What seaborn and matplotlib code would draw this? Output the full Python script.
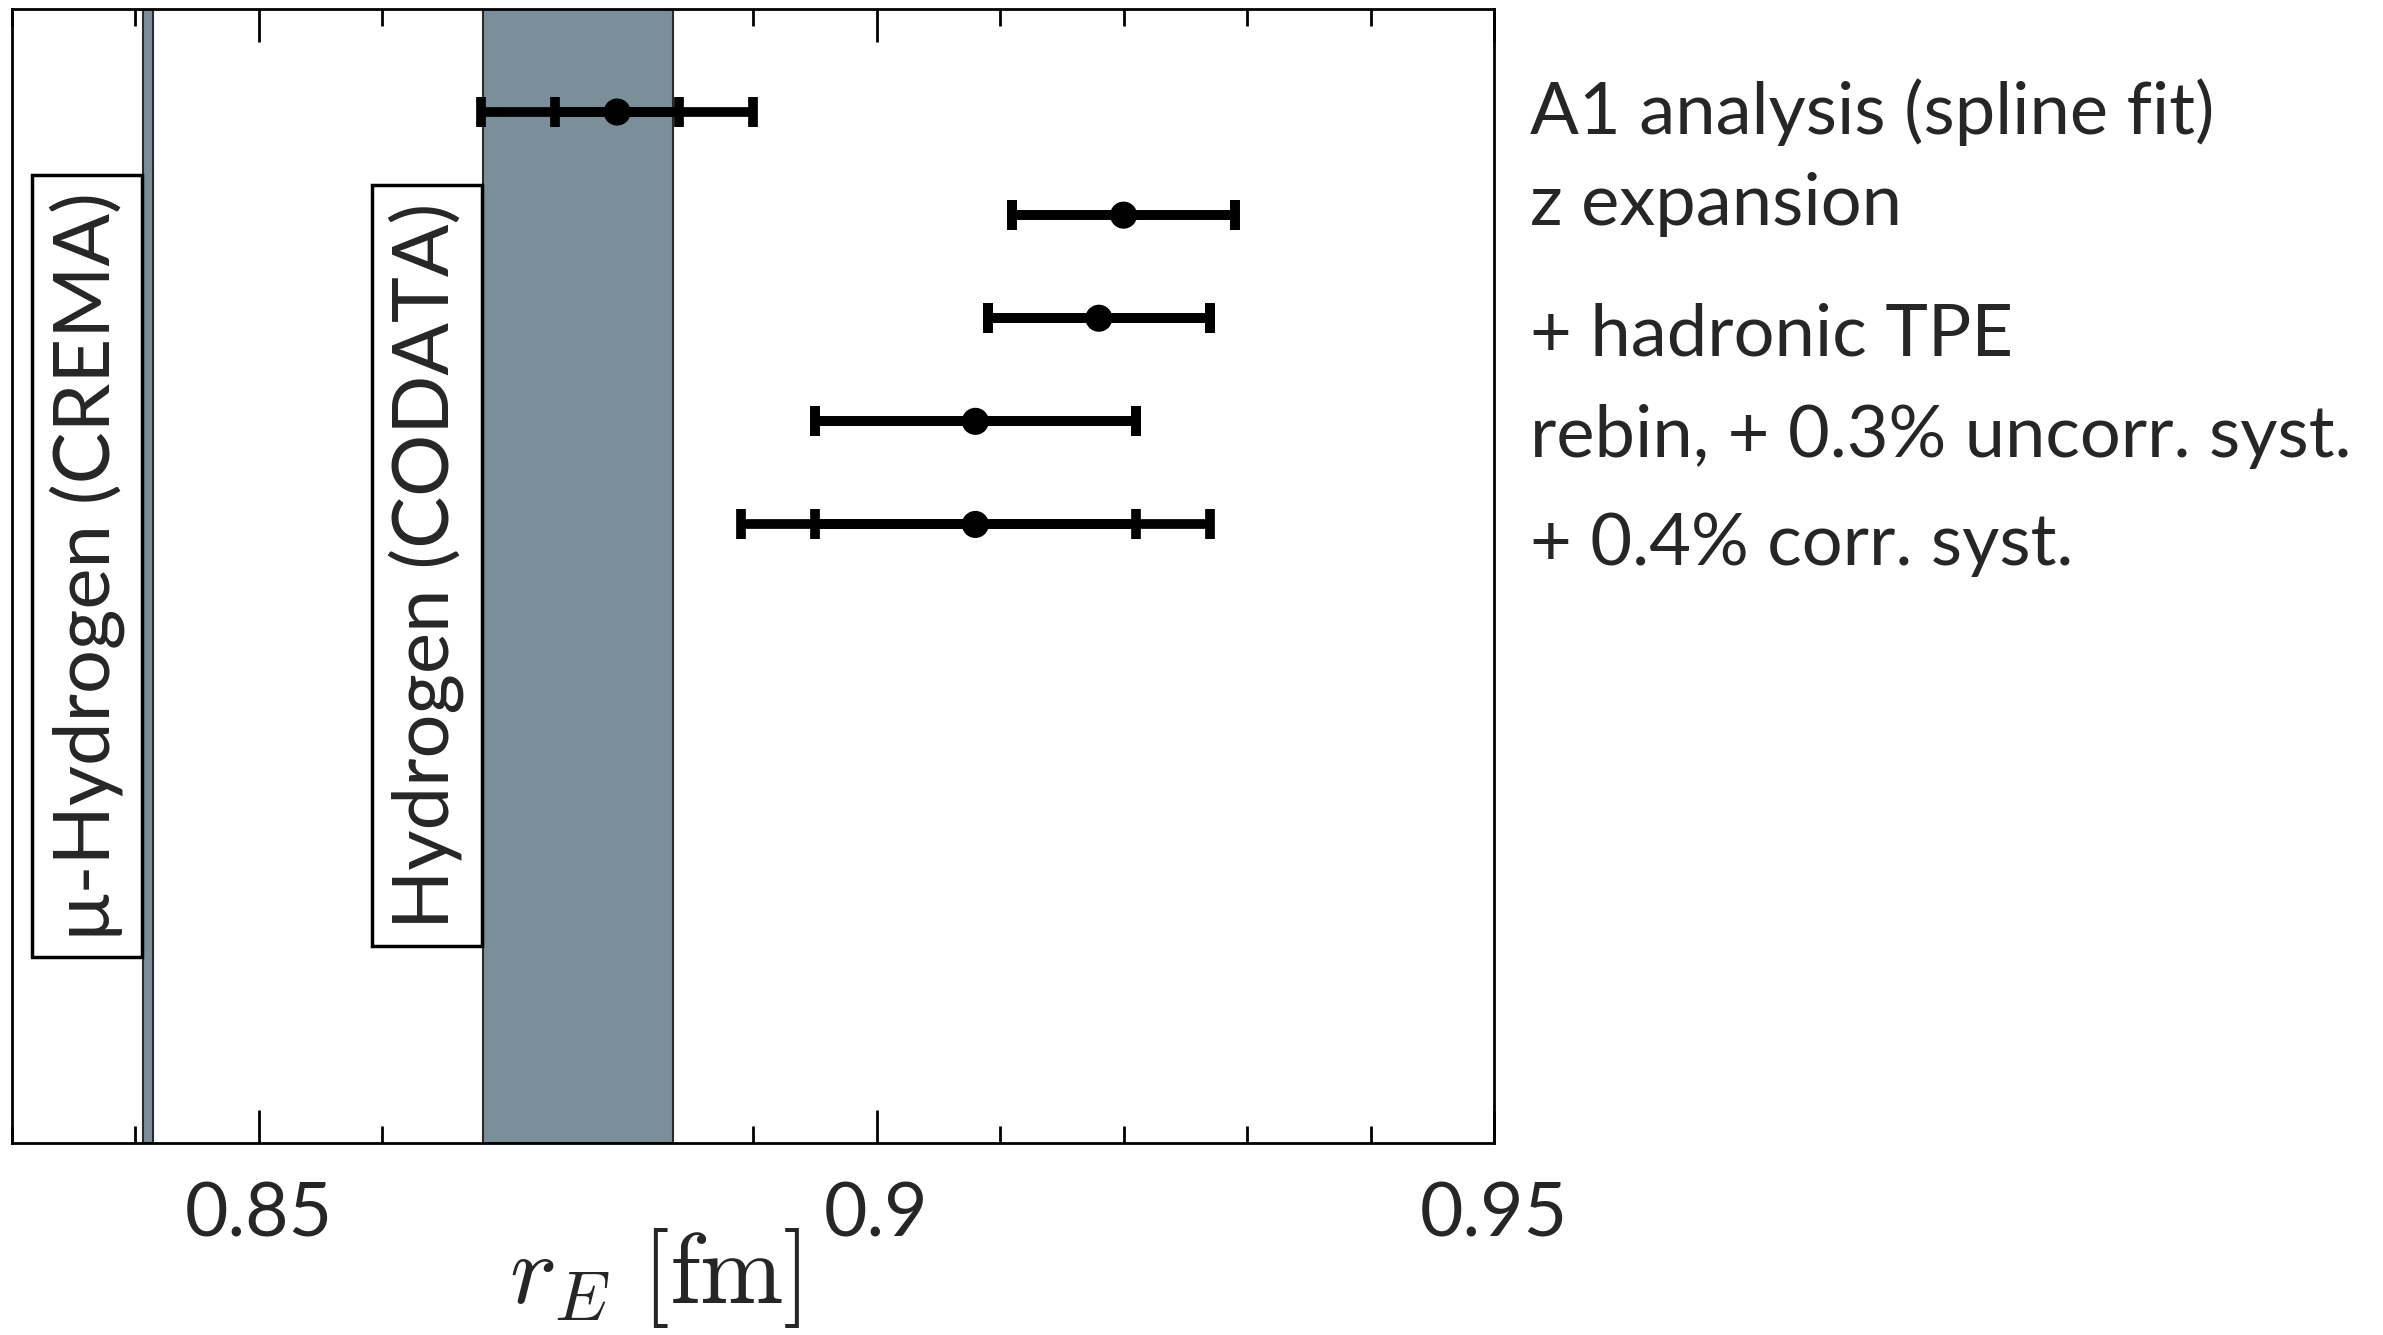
import numpy as np
import matplotlib
matplotlib.use("Agg")
import matplotlib.pyplot as plt
from matplotlib.ticker import MultipleLocator
import seaborn as sns

# ---- données ----
labels = ["A1 analysis (spline fit)", "z expansion", "+ hadronic TPE",
          "rebin, + 0.3% uncorr. syst.", "+ 0.4% corr. syst."]
row_y = [10, 9, 8, 7, 6]
label_y = [10.0, 9.1, 7.84, 6.85, 5.81]
r_center = [0.879, 0.920, 0.918, 0.908, 0.908]
err_inner = [0.005, 0.009, 0.009, 0.013, 0.013]
err_total = [0.011, 0.009, 0.009, 0.013, 0.019]

crema_r, crema_err = 0.84100, 0.00040
codata_r, codata_err = 0.8758, 0.0077
band_names = ["μ-Hydrogen (CREMA)", "Hydrogen (CODATA)"]
band_label_y = 5.6

tick_vals = [0.85, 0.9, 0.95]
tick_labels = ["0.85", "0.9", "0.95"]

band_color = "#7b8f9a"

sns.set_theme(style="white")
plt.rcParams["font.family"] = ["Lato", "DejaVu Sans"]
plt.rcParams["mathtext.fontset"] = "cm"

fig = plt.figure(figsize=(23.83, 13.35), dpi=100)
ax = fig.add_axes([0.005, 0.1438, 0.622, 0.8495])

# -- bandes CREMA / CODATA --
for r, e, name in zip([crema_r, codata_r], [crema_err, codata_err], band_names):
    ax.axvspan(r - e, r + e, facecolor=band_color, edgecolor="#2b2b2b", lw=1.5, zorder=1)
    ax.annotate(name, xy=(r - e, band_label_y), xytext=(-13, 0),
                textcoords="offset points", rotation=90, ha="right", va="center",
                fontsize=56, zorder=2,
                bbox=dict(boxstyle="square,pad=0.22", fc="white", ec="black", lw=2.5))

# -- barres d'erreur --
for err in [err_total, err_inner]:
    ax.errorbar(r_center, row_y, xerr=err, fmt="none", ecolor="black",
                elinewidth=7, capsize=11, capthick=7, zorder=3)
sns.scatterplot(x=r_center, y=row_y, ax=ax, s=380, color="black",
                edgecolor="none", zorder=4)

# -- textes à droite --
for lab, yy in zip(labels, label_y):
    ax.text(1.024, yy, lab, transform=ax.get_yaxis_transform(), ha="left",
            va="center", fontsize=52, clip_on=False)

# -- axes --
ax.set_xlim(0.83, 0.95)
ax.set_ylim(0, 11)
ax.set_yticks([])
ax.set_xticks(tick_vals)
ax.set_xticklabels(tick_labels, fontsize=54)
ax.xaxis.set_minor_locator(MultipleLocator(0.01))
ax.tick_params(axis="x", which="both", direction="in", top=True, bottom=True,
               width=2, color="black", pad=27)
ax.tick_params(axis="x", which="major", length=24)
ax.tick_params(axis="x", which="minor", length=12)
for s in ax.spines.values():
    s.set_color("black")
    s.set_linewidth(2)

ax.set_xlabel(r"$r_E\ [\mathrm{fm}]$", fontsize=72)
ax.xaxis.set_label_coords(0.434, -0.073)

plt.savefig("out.png", dpi=100)
